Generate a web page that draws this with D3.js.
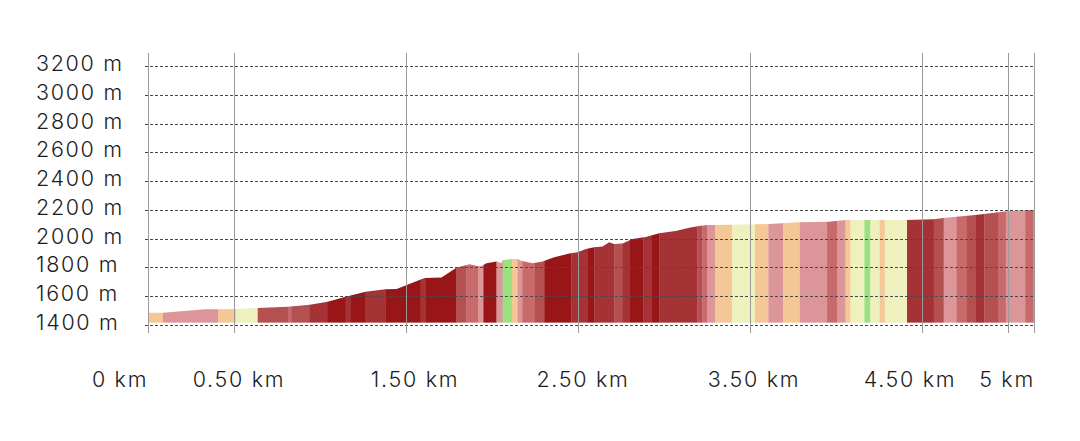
<!DOCTYPE html>
<html>
<head>
<meta charset="utf-8">
<script src="https://cdn.jsdelivr.net/npm/d3@7/dist/d3.min.js"></script>
<style>
  html, body { margin: 0; padding: 0; background: #fff; }
  svg { display: block; }
  text { font-family: "Inter", "DejaVu Sans", sans-serif; fill: #1c1c1c; font-weight: 300; }
</style>
</head>
<body>
<svg id="chart" width="1080" height="441"></svg>
<script>
// ---------- data ----------
const profileKm = [0.00, 0.087, 0.331, 0.406, 0.511, 0.638, 0.813, 0.940, 1.045, 1.149,
  1.265, 1.381, 1.445, 1.608, 1.706, 1.793, 1.869, 1.915, 1.939, 1.968,
  2.026, 2.055, 2.063, 2.116, 2.149, 2.169, 2.236, 2.294, 2.362, 2.449,
  2.497, 2.546, 2.594, 2.643, 2.681, 2.710, 2.759, 2.817, 2.894, 2.972,
  3.068, 3.146, 3.204, 3.252, 3.301, 3.533, 3.610, 3.784, 3.958, 4.057,
  4.411, 4.568, 4.637, 4.811, 4.945, 5.003, 5.150];
const profileElev = [1485, 1485, 1509, 1509, 1511, 1518, 1527, 1541, 1562, 1597,
  1631, 1648, 1650, 1727, 1730, 1798, 1822, 1810, 1810, 1829,
  1841, 1831, 1852, 1859, 1859, 1847, 1829, 1841, 1870, 1897,
  1905, 1928, 1940, 1945, 1975, 1963, 1966, 1998, 2012, 2037,
  2053, 2076, 2088, 2095, 2095, 2100, 2102, 2114, 2118, 2130,
  2130, 2135, 2146, 2164, 2183, 2192, 2199];
const baseElev = 1415;

// slope class of each stretch: 0 flat (green) ... 7 steepest (darkest red)
const segStartKm = [0.000, 0.087, 0.409, 0.511, 0.638, 0.813, 0.836, 0.940, 1.045, 1.149,
  1.178, 1.265, 1.381, 1.585, 1.614, 1.793, 1.851, 1.921, 1.950, 2.026,
  2.062, 2.116, 2.149, 2.176, 2.246, 2.304, 2.461, 2.554, 2.594, 2.710,
  2.757, 2.798, 2.879, 2.926, 2.972, 3.193, 3.222, 3.250, 3.297, 3.395,
  3.529, 3.607, 3.693, 3.790, 3.948, 4.006, 4.055, 4.084, 4.165, 4.200,
  4.254, 4.283, 4.413, 4.568, 4.626, 4.701, 4.759, 4.810, 4.862, 4.945,
  4.987, 5.100];
const segClass = [2, 3, 2, 1, 5, 4, 5, 6, 7, 6,
  7, 6, 7, 6, 7, 5, 4, 3, 7, 3,
  0, 2, 3, 4, 5, 7, 6, 7, 6, 5,
  6, 7, 6, 7, 6, 5, 4, 3, 2, 1,
  2, 3, 2, 3, 4, 3, 2, 1, 0, 1,
  2, 1, 6, 5, 3, 4, 5, 6, 5, 4,
  3, 4];

const yTicks = [1400, 1600, 1800, 2000, 2200, 2400, 2600, 2800, 3000, 3200];
const xTicks = [0, 0.5, 1.5, 2.5, 3.5, 4.5, 5];
const xTickLabels = ["0 km", "0.50 km", "1.50 km", "2.50 km", "3.50 km", "4.50 km", "5 km"];

// ---------- styling / layout ----------
const slopeColors = ["#9de080", "#eef0be", "#f3c896", "#dc9699", "#c8696c", "#b55050", "#a53234", "#981618"];
const xLabelNudge = [-28, 5, 9, 5, 4, -12, -1];

const svg = d3.select("#chart");
const x = d3.scaleLinear().domain([0, 5]).range([148, 1008]);
const y = d3.scaleLinear().domain([1400, 3200]).range([325, 66]);
const kmEnd = profileKm[profileKm.length - 1];

// clip shape = elevation profile
const pts = profileKm.map((k, i) => [k, profileElev[i]]);
const area = d3.area()
  .x(d => x(d[0]))
  .y0(y(baseElev))
  .y1(d => y(d[1]));

svg.append("defs").append("clipPath").attr("id", "profileClip")
  .append("path").attr("d", area(pts));

const segs = segStartKm.map((s, i) => ({
  s, e: i < segStartKm.length - 1 ? segStartKm[i + 1] : kmEnd, c: segClass[i]
}));

svg.append("g").attr("clip-path", "url(#profileClip)")
  .selectAll("rect").data(segs).join("rect")
  .attr("x", d => x(d.s))
  .attr("width", d => x(d.e) - x(d.s) + 0.3)
  .attr("y", y(3200))
  .attr("height", y(baseElev) - y(3200))
  .attr("fill", d => slopeColors[d.c]);

// horizontal dashed gridlines
svg.append("g").selectAll("line").data(yTicks).join("line")
  .attr("x1", 145).attr("x2", x(kmEnd))
  .attr("y1", d => Math.round(y(d)) + 0.5).attr("y2", d => Math.round(y(d)) + 0.5)
  .attr("stroke", "#4a4a4a").attr("stroke-width", 1)
  .attr("stroke-dasharray", "3,2");

// vertical gridlines
svg.append("g").selectAll("line").data(xTicks.concat([kmEnd])).join("line")
  .attr("x1", d => Math.round(x(d)) + 0.5).attr("x2", d => Math.round(x(d)) + 0.5)
  .attr("y1", 53).attr("y2", 333)
  .attr("stroke", "#9a9a9a").attr("stroke-width", 1);

// y labels
svg.append("g").selectAll("text").data(yTicks).join("text")
  .attr("x", 36).attr("y", d => y(d) + 5)
  .attr("font-size", 21.5).attr("letter-spacing", 1.7)
  .text(d => d + " m");

// x labels
svg.append("g").selectAll("text").data(xTicks).join("text")
  .attr("x", (d, i) => x(d) + xLabelNudge[i])
  .attr("y", 386.5)
  .attr("text-anchor", "middle")
  .attr("font-size", 21.5).attr("letter-spacing", 1.7)
  .text((d, i) => xTickLabels[i]);
</script>
</body>
</html>
